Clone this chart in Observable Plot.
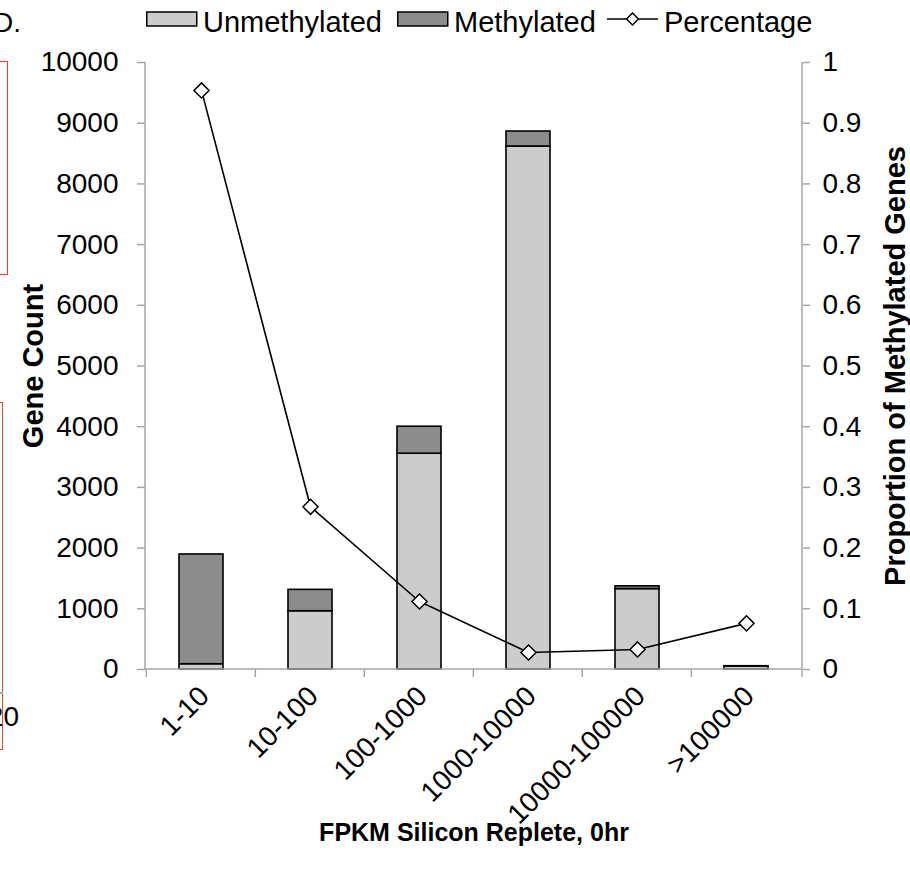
<!DOCTYPE html>
<html>
<head>
<meta charset="utf-8">
<script src="https://cdn.jsdelivr.net/npm/d3@7"></script>
<script src="https://cdn.jsdelivr.net/npm/@observablehq/plot@0.6"></script>
<style>
  body { margin: 0; background: #fff; }
  #page {
    position: relative; width: 910px; height: 876px; overflow: hidden;
    font-family: "Liberation Sans", Arial, sans-serif; color: #000;
  }
  #legend { position: relative; height: 44px; font-size: 29px; }
  .key { position: absolute; top: 8px; height: 28px; line-height: 28px; white-space: nowrap; }
  .key svg { position: absolute; top: 0; }
  .key span { position: absolute; top: 0; }
  .panel-edge { position: absolute; border: 1.5px solid #f5401c; }
  .stray { position: absolute; font-size: 28px; line-height: 28px; text-align: right; white-space: nowrap; }
  #chart svg { display: block; }
</style>
</head>
<body>
<div id="page">
  <div id="legend"></div>
  <div id="chart"></div>
</div>
<script>
// Gene counts per FPKM expression bin, split by methylation status
const categories = ["1-10", "10-100", "100-1000", "1000-10000", "10000-100000", ">100000"];
const unmethylated = [87, 960, 3555, 8616, 1325, 50];
const methylated = [1808, 352, 445, 247, 45, 4];
// Share of methylated genes in each bin (right axis)
const percentage = [0.954, 0.268, 0.112, 0.028, 0.033, 0.076];

const statuses = ["Unmethylated", "Methylated"];
const statusFill = ["#cccccc", "#8c8c8c"];
const countTicks = [0, 1000, 2000, 3000, 4000, 5000, 6000, 7000, 8000, 9000, 10000];
const proportionTicks = [0, 0.1, 0.2, 0.3, 0.4, 0.5, 0.6, 0.7, 0.8, 0.9, 1];

const countMax = countTicks[countTicks.length - 1];
const axisGray = "#a6a6a6";
const bandPaddingOuter = 0.3;
const fontStack = '"Liberation Sans", Arial, sans-serif';

const rows = categories.flatMap((range, i) => [
  {range, status: statuses[0], count: unmethylated[i]},
  {range, status: statuses[1], count: methylated[i]}
]);
const shareRows = categories.map((range, i) => ({range, share: percentage[i]}));

// Excel-style axis lines plus tick marks on the category boundaries
function axisLines(index, scales, values, dims) {
  const {width, height, marginLeft, marginRight, marginTop, marginBottom} = dims;
  const x = scales.x;
  const left = marginLeft, right = width - marginRight;
  const top = marginTop, bottom = height - marginBottom;
  const step = x(categories[1]) - x(categories[0]);
  const edges = categories.map(c => x(c) - step * bandPaddingOuter).concat([right]);
  const g = d3.create("svg:g")
    .attr("stroke", axisGray).attr("stroke-width", 1.5).attr("fill", "none");
  g.append("line").attr("x1", left).attr("x2", left).attr("y1", top).attr("y2", bottom);
  g.append("line").attr("x1", right).attr("x2", right).attr("y1", top).attr("y2", bottom);
  g.append("line").attr("x1", left).attr("x2", right).attr("y1", bottom).attr("y2", bottom);
  for (const e of edges) {
    g.append("line").attr("x1", e).attr("x2", e).attr("y1", bottom).attr("y2", bottom + 8);
  }
  return g.node();
}

const chart = Plot.plot({
  width: 910,
  height: 832,
  marginTop: 18,
  marginBottom: 207,
  marginLeft: 145,
  marginRight: 108,
  style: {fontFamily: fontStack, fontSize: "28px", color: "#000", background: "#fff", overflow: "visible"},
  x: {domain: categories, paddingInner: 0.6, paddingOuter: bandPaddingOuter, axis: null},
  y: {domain: [0, countMax], axis: null},
  color: {domain: statuses, range: statusFill},
  marks: [
    Plot.barY(rows, {x: "range", y: "count", fill: "status", stroke: "#000", strokeWidth: 1.6}),
    axisLines,
    Plot.axisY(countTicks, {
      anchor: "left", tickSize: 8, tickPadding: 19, stroke: axisGray, strokeWidth: 1.5,
      fill: "#000", tickFormat: d => String(d), label: null
    }),
    Plot.axisY(proportionTicks.map(p => p * countMax), {
      anchor: "right", tickSize: 7, tickPadding: 13, stroke: axisGray, strokeWidth: 1.5,
      fill: "#000", tickFormat: (v, i) => String(proportionTicks[i]), label: null
    }),
    Plot.axisX({
      anchor: "bottom", tickSize: 0, tickPadding: 22, tickRotate: -45, dx: 3,
      fill: "#000", label: null
    }),
    Plot.line(shareRows, {x: "range", y: d => d.share * countMax, stroke: "#000", strokeWidth: 1.6}),
    Plot.dot(shareRows, {
      x: "range", y: d => d.share * countMax, symbol: "diamond2", r: 6.8,
      fill: "#fff", stroke: "#000", strokeWidth: 1.5
    }),
    Plot.text(["Gene Count"], {
      text: d => d, frameAnchor: "left", dx: -112, rotate: -90,
      textAnchor: "middle", lineAnchor: "middle", fontWeight: "bold", fontSize: 29
    }),
    Plot.text(["Proportion of Methylated Genes"], {
      text: d => d, frameAnchor: "right", dx: 93, rotate: -90,
      textAnchor: "middle", lineAnchor: "middle", fontWeight: "bold", fontSize: 29
    }),
    Plot.text(["FPKM Silicon Replete, 0hr"], {
      text: d => d, frameAnchor: "bottom", dy: 163,
      textAnchor: "middle", lineAnchor: "middle", fontWeight: "bold", fontSize: 25
    })
  ]
});
document.getElementById("chart").append(chart);

// Legend: two stacked-bar swatches and the line-with-diamond key
const legend = d3.select("#legend");
const keys = [
  {label: statuses[0], left: 146, kind: "box", fill: statusFill[0]},
  {label: statuses[1], left: 397, kind: "box", fill: statusFill[1]},
  {label: "Percentage", left: 607, kind: "line"}
];
for (const k of keys) {
  const item = legend.append("div").attr("class", "key").style("left", k.left + "px");
  const sw = item.append("svg").attr("width", 52).attr("height", 28).style("left", "0px");
  if (k.kind === "box") {
    sw.append("rect").attr("x", 0.75).attr("y", 4).attr("width", 50).attr("height", 14)
      .attr("fill", k.fill).attr("stroke", "#000").attr("stroke-width", 1.5);
  } else {
    sw.append("line").attr("x1", 0).attr("x2", 51).attr("y1", 11).attr("y2", 11)
      .attr("stroke", "#000").attr("stroke-width", 1.6);
    sw.append("path").attr("d", d3.symbol(d3.symbolDiamond2, 90)())
      .attr("transform", "translate(25.5,11)")
      .attr("fill", "#fff").attr("stroke", "#000").attr("stroke-width", 1.5);
  }
  item.append("span").style("left", "57px").text(k.label);
}

// Edges of the neighbouring panels at the left margin
const page = d3.select("#page");
page.append("div").attr("class", "panel-edge")
  .style("left", "-12px").style("top", "61px").style("width", "18px").style("height", "212px");
page.append("div").attr("class", "panel-edge")
  .style("left", "-12px").style("top", "402px").style("width", "13px").style("height", "346px");
page.append("div").attr("class", "stray")
  .style("left", "-40px").style("top", "9px").style("width", "61px").text("D.");
page.append("div").attr("class", "stray")
  .style("left", "-40px").style("top", "703px").style("width", "59px").text("20");
page.append("div")
  .style("position", "absolute").style("left", "0px").style("top", "692px")
  .style("width", "3px").style("height", "1.5px").style("background", axisGray);
</script>
</body>
</html>
